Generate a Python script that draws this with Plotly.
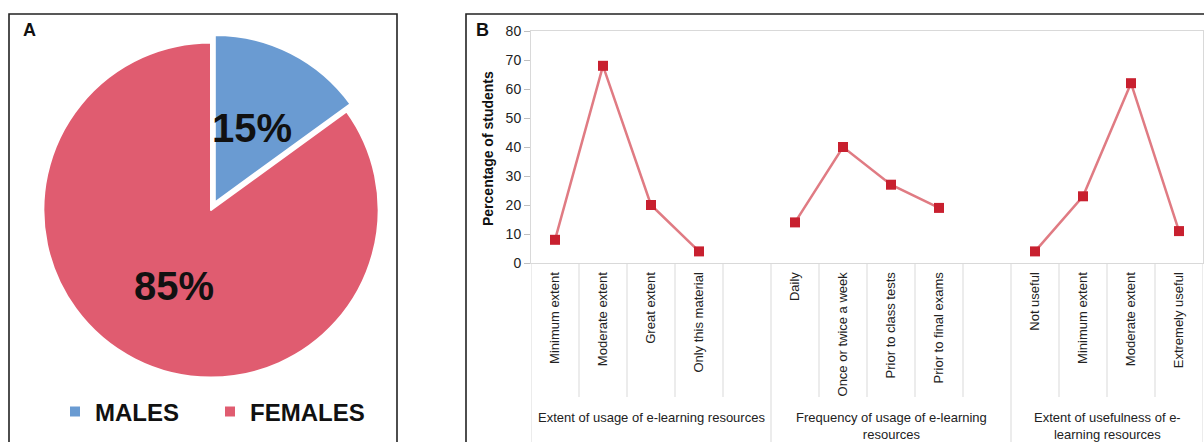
import plotly.graph_objects as go

W, H = 1204, 442

# ---------------- data ----------------
sex_labels = ["MALES", "FEMALES"]
sex_values = [15, 85]
sex_colors = ["#6A9BD2", "#E05C70"]

usage_labels = ["Minimum extent", "Moderate extent", "Great extent", "Only this material"]
usage_values = [8, 68, 20, 4]

freq_labels = ["Daily", "Once or twice a week", "Prior to class tests", "Prior to final exams"]
freq_values = [14, 40, 27, 19]

useful_labels = ["Not useful", "Minimum extent", "Moderate extent", "Extremely useful"]
useful_values = [4, 23, 62, 11]

group_titles = [
    "Extent of usage of e-learning resources",
    "Frequency of usage of e-learning<br>resources",
    "Extent of usefulness of e-<br>learning resources",
]
group_slots = [5, 5, 4]

# ---------------- helpers ----------------
def px_x(p):
    return p / W

def px_y(p):
    return 1 - p / H

groups = [(usage_labels, usage_values), (freq_labels, freq_values), (useful_labels, useful_values)]
xs, ys, tickvals, ticktext = [], [], [], []
group_starts = []
pos = 0
for (labs, vals), nslots in zip(groups, group_slots):
    group_starts.append(pos)
    for i, (lab, v) in enumerate(zip(labs, vals)):
        xs.append(pos + i)
        ys.append(v)
        tickvals.append(pos + i)
        ticktext.append(lab)
    xs.append(None)
    ys.append(None)
    pos += nslots
total_slots = pos

font_family = "Liberation Sans, Arial, sans-serif"

fig = go.Figure()

# ---------------- panel A: pie ----------------
pie_cx, pie_cy, pie_half = 211, 210, 176
fig.add_trace(go.Pie(
    labels=sex_labels,
    values=sex_values,
    marker=dict(colors=sex_colors, line=dict(color="white", width=2)),
    sort=False,
    direction="clockwise",
    rotation=0,
    pull=[0.05, 0],
    textinfo="none",
    hoverinfo="label+percent",
    domain=dict(x=[px_x(pie_cx - pie_half), px_x(pie_cx + pie_half)],
                y=[px_y(pie_cy + pie_half), px_y(pie_cy - pie_half)]),
))

# ---------------- panel B: lines ----------------
fig.add_trace(go.Scatter(
    x=xs, y=ys,
    mode="lines+markers",
    line=dict(color="#E07B83", width=2.5),
    marker=dict(symbol="square", size=10, color="#C8202F"),
    connectgaps=False,
    showlegend=False,
))

plot_l, plot_r, plot_t, plot_b = 531, 1203, 31, 263

fig.update_layout(
    template="none",
    width=W, height=H,
    autosize=False,
    margin=dict(l=0, r=0, t=0, b=0, pad=0, autoexpand=False),
    paper_bgcolor="white",
    plot_bgcolor="white",
    font=dict(family=font_family, color="#1a1a1a"),
    showlegend=True,
    legend=dict(
        orientation="h",
        x=px_x(55), xanchor="left",
        y=px_y(412), yanchor="middle",
        font=dict(size=24, weight="bold", color="#111"),
        entrywidth=110, entrywidthmode="pixels",
        bgcolor="rgba(0,0,0,0)",
    ),
    xaxis=dict(
        domain=[px_x(plot_l), px_x(plot_r)],
        range=[-0.5, total_slots - 0.5],
        tickvals=tickvals, ticktext=ticktext,
        tickangle=-90,
        tickfont=dict(size=13, color="#222"),
        ticks="", ticklabelstandoff=3,
        showgrid=False, zeroline=False, automargin=False,
        showline=True, linecolor="#D9D9D9", linewidth=1, mirror=True,
        anchor="y",
    ),
    yaxis=dict(
        domain=[px_y(plot_b), px_y(plot_t)],
        range=[0, 80], dtick=10,
        tickfont=dict(size=14, color="#222"),
        ticks="outside", ticklen=6, tickcolor="#BFBFBF",
        showgrid=False, zeroline=False, automargin=False,
        showline=True, linecolor="#D9D9D9", linewidth=1, mirror=True,
        anchor="x",
    ),
)

shapes = []
for gi, (start, nslots) in enumerate(zip(group_starts, group_slots)):
    shapes.append(dict(type="line", xref="x", yref="paper",
                       x0=start - 0.5, x1=start - 0.5, y0=px_y(plot_b), y1=0,
                       line=dict(color="#D9D9D9", width=1)))
    for k in range(1, nslots):
        shapes.append(dict(type="line", xref="x", yref="paper",
                           x0=start + k - 0.5, x1=start + k - 0.5,
                           y0=px_y(plot_b), y1=px_y(397),
                           line=dict(color="#D9D9D9", width=1)))
shapes.append(dict(type="line", xref="x", yref="paper",
                   x0=total_slots - 0.5, x1=total_slots - 0.5, y0=px_y(plot_b), y1=0,
                   line=dict(color="#D9D9D9", width=1)))
shapes.append(dict(type="rect", xref="paper", yref="paper",
                   x0=px_x(9), x1=px_x(397), y0=-0.05, y1=px_y(14),
                   line=dict(color="#222", width=1.6)))
shapes.append(dict(type="rect", xref="paper", yref="paper",
                   x0=px_x(466), x1=1.05, y0=-0.05, y1=px_y(14),
                   line=dict(color="#222", width=1.6)))

annotations = []
for title, start, nslots in zip(group_titles, group_starts, group_slots):
    annotations.append(dict(
        text=title, xref="x", yref="paper",
        x=start + (nslots - 1) / 2, y=px_y(408), xanchor="center", yanchor="top",
        showarrow=False, font=dict(size=13, color="#222"),
    ))
annotations.append(dict(
    text="Percentage of students", xref="paper", yref="paper",
    x=px_x(488), y=px_y(149), xanchor="center", yanchor="middle", textangle=-90,
    showarrow=False, font=dict(size=14, weight="bold", color="#111"),
))
for letter, lx in (("A", 29), ("B", 482)):
    annotations.append(dict(text=letter, xref="paper", yref="paper",
                            x=px_x(lx), y=px_y(30), xanchor="center", yanchor="middle",
                            showarrow=False, font=dict(size=18, weight="bold", color="#111")))
pct_pos = [(252, 128), (174, 286)]
for v, (px, py) in zip(sex_values, pct_pos):
    annotations.append(dict(
        text=f"{v}%", xref="paper", yref="paper", x=px_x(px), y=px_y(py),
        xanchor="center", yanchor="middle",
        showarrow=False, font=dict(size=40, weight="bold", color="#111"),
    ))

fig.update_layout(shapes=shapes, annotations=annotations)

post = """
var de=document.documentElement, b=document.body;
[de,b].forEach(function(e){e.style.margin='0';e.style.padding='0';e.style.overflow='hidden';e.style.height='442px';e.style.width='1204px';});
var gd=document.getElementById('{plot_id}');
gd.style.position='fixed'; gd.style.left='0px'; gd.style.top='0px';
"""

fig.write_html("out.html", config={"displayModeBar": False}, post_script=post)
